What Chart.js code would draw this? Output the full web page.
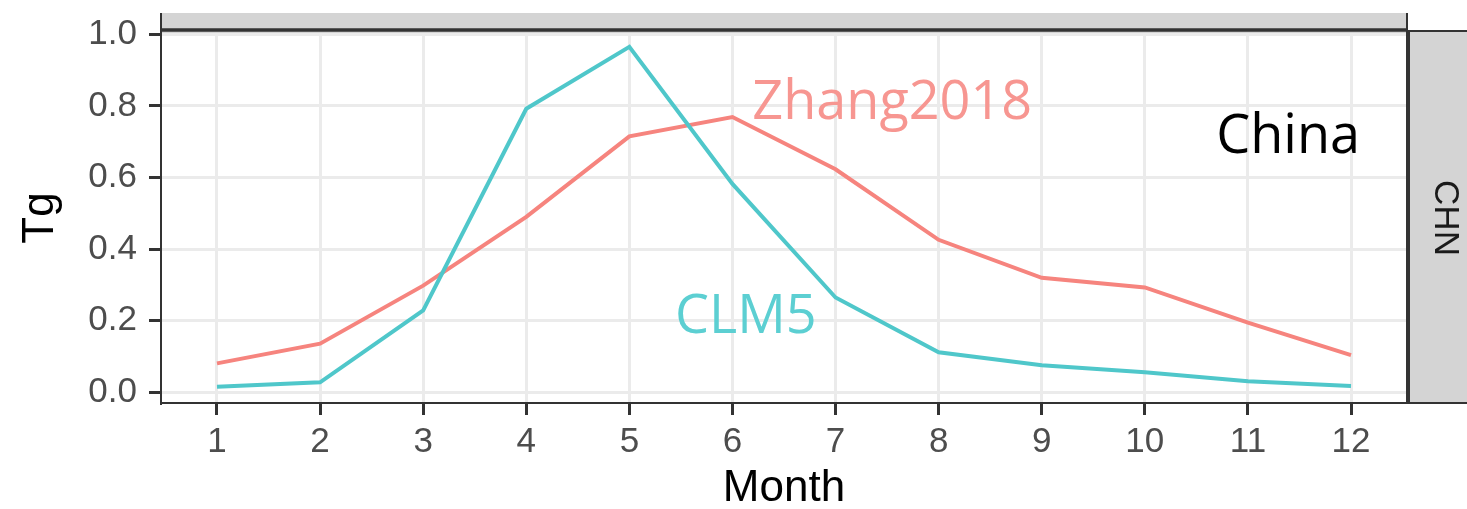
<!DOCTYPE html>
<html>
<head>
<meta charset="utf-8">
<script src="https://cdn.jsdelivr.net/npm/chart.js@4"></script>
<style>
  html, body { margin: 0; padding: 0; background: #fff; }
  canvas { display: block; }
</style>
</head>
<body>
<canvas id="chart" width="1467" height="509"></canvas>
<script>
// data
const months = [1, 2, 3, 4, 5, 6, 7, 8, 9, 10, 11, 12];
const zhang2018 = [0.081, 0.136, 0.298, 0.490, 0.715, 0.769, 0.623, 0.426, 0.320, 0.293, 0.195, 0.104];
const clm5 = [0.016, 0.028, 0.229, 0.792, 0.965, 0.582, 0.265, 0.112, 0.076, 0.056, 0.031, 0.018];
const yTicks = [0, 0.2, 0.4, 0.6, 0.8, 1.0];

const RED = '#F6847E';
const TEAL = '#4FC7CA';
const DARK = '#333333';
const STRIP = '#D4D4D4';
const TEXTFONT = '"Open Sans", "Noto Sans", sans-serif';
const AXISFONT = '"Liberation Sans", Arial, sans-serif';

// text labels inside the panel, in data units
const notes = [
  { text: 'Zhang2018', x: 7.55, y: 0.763, color: '#F79691' },
  { text: 'CLM5', x: 6.13, y: 0.166, color: '#5CCFD2' },
  { text: 'China', x: 11.39, y: 0.668, color: '#000000' },
];

const toPoints = vals => months.map((m, i) => ({ x: m, y: vals[i] }));

const facetPlugin = {
  id: 'facet',
  beforeDraw(chart) {
    const ctx = chart.ctx;
    ctx.save();
    ctx.fillStyle = '#fff';
    ctx.fillRect(0, 0, chart.width, chart.height);
    ctx.restore();
  },
  afterDraw(chart) {
    const ctx = chart.ctx;
    const a = chart.chartArea;
    const xs = chart.scales.x, ys = chart.scales.y;
    ctx.save();

    // annotations
    ctx.font = '54px ' + TEXTFONT;
    ctx.textAlign = 'center';
    ctx.textBaseline = 'alphabetic';
    notes.forEach(n => {
      ctx.fillStyle = n.color;
      ctx.fillText(n.text, xs.getPixelForValue(n.x), ys.getPixelForValue(n.y));
    });

    // top strip (cut off by the image edge)
    ctx.fillStyle = STRIP;
    ctx.fillRect(a.left, 13, a.right - a.left, a.top - 13);
    ctx.strokeStyle = DARK;
    ctx.lineWidth = 2;
    ctx.beginPath();
    ctx.moveTo(a.left, 13); ctx.lineTo(a.left, a.top);
    ctx.moveTo(a.right, 13); ctx.lineTo(a.right, a.top);
    ctx.stroke();
    ctx.lineWidth = 3.5;
    ctx.beginPath();
    ctx.moveTo(a.left - 1, a.top - 3); ctx.lineTo(a.right + 1, a.top - 3);
    ctx.stroke();

    // right strip
    const sx = a.right + 2;
    ctx.fillStyle = STRIP;
    ctx.fillRect(sx, a.top - 3, chart.width - sx, a.bottom - a.top + 3);
    ctx.lineWidth = 2;
    ctx.beginPath();
    ctx.moveTo(sx, a.top - 2); ctx.lineTo(chart.width, a.top - 2);
    ctx.moveTo(a.right, a.bottom); ctx.lineTo(chart.width, a.bottom);
    ctx.stroke();
    ctx.lineWidth = 4;
    ctx.beginPath();
    ctx.moveTo(a.right + 1, a.top - 3); ctx.lineTo(a.right + 1, a.bottom + 1);
    ctx.stroke();

    ctx.translate(1445, (a.top + a.bottom) / 2);
    ctx.rotate(Math.PI / 2);
    ctx.fillStyle = '#1A1A1A';
    ctx.font = '35px ' + AXISFONT;
    ctx.textAlign = 'center';
    ctx.textBaseline = 'middle';
    ctx.fillText('CHN', 0, 0);
    ctx.restore();
  }
};

new Chart(document.getElementById('chart'), {
  type: 'line',
  data: {
    datasets: [
      { label: 'CLM5', data: toPoints(clm5), borderColor: TEAL, borderWidth: 4, pointRadius: 0, tension: 0 },
      { label: 'Zhang2018', data: toPoints(zhang2018), borderColor: RED, borderWidth: 4, pointRadius: 0, tension: 0 },
    ],
  },
  options: {
    responsive: false,
    animation: false,
    events: [],
    layout: { padding: { top: 31, right: 60, left: 0, bottom: 0 } },
    plugins: { legend: { display: false }, tooltip: { enabled: false } },
    scales: {
      x: {
        type: 'linear',
        min: 0.457, max: 12.543,
        afterFit: s => { s.height = 106; },
        afterBuildTicks: s => { s.ticks = months.map(v => ({ value: v })); },
        ticks: { color: '#4D4D4D', font: { family: AXISFONT, size: 35 }, padding: 6, maxRotation: 0, callback: v => String(v) },
        grid: { color: '#EBEBEB', lineWidth: 3, tickColor: DARK, tickLength: 12, tickWidth: 3 },
        border: { display: true, color: DARK, width: 2 },
        title: { display: true, text: 'Month', color: '#000', font: { family: AXISFONT, size: 44, lineHeight: 0.9 }, padding: { top: 0, bottom: 0 } },
      },
      y: {
        min: -0.0297, max: 1.0036,
        afterFit: s => { s.width = 161; },
        afterBuildTicks: s => { s.ticks = yTicks.map(v => ({ value: v })); },
        ticks: { color: '#4D4D4D', font: { family: AXISFONT, size: 35 }, padding: 12, callback: v => v.toFixed(1) },
        grid: { color: '#EBEBEB', lineWidth: 3, tickColor: DARK, tickLength: 12, tickWidth: 3 },
        border: { display: true, color: DARK, width: 2 },
        title: { display: true, text: 'Tg', color: '#000', font: { family: AXISFONT, size: 44, lineHeight: 0.9 }, padding: { top: 21, bottom: 0 } },
      },
    },
  },
  plugins: [facetPlugin],
});
</script>
</body>
</html>
